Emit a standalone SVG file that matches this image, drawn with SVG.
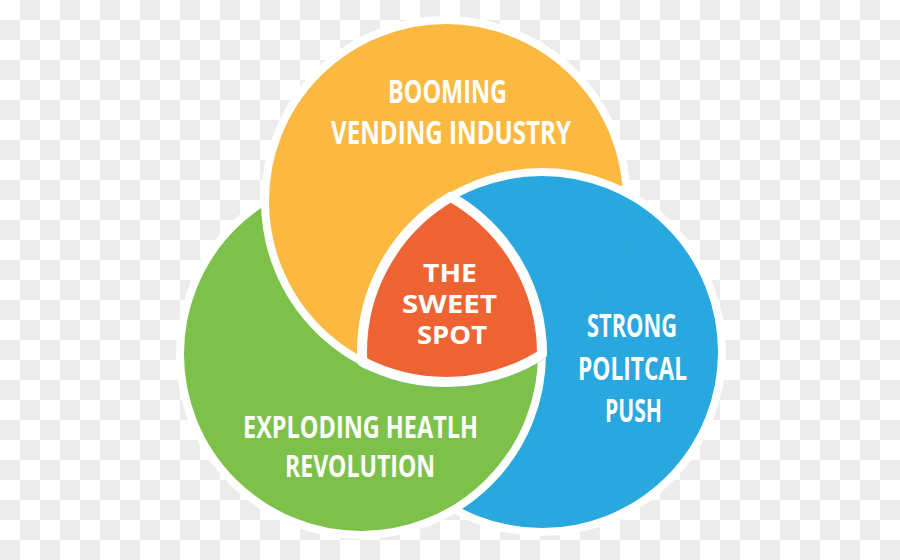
<svg xmlns="http://www.w3.org/2000/svg" width="900" height="560" viewBox="0 0 900 560">
<defs>
<pattern id="checker" width="40" height="40" patternUnits="userSpaceOnUse">
<rect width="40" height="40" fill="#ffffff"/>
<rect x="20" y="0" width="20" height="20" fill="#ececec"/>
<rect x="0" y="20" width="20" height="20" fill="#ececec"/>
</pattern>
<clipPath id="clipY"><circle cx="446" cy="201" r="186.2"/></clipPath>
<circle id="cB" cx="542" cy="352" r="180"/>
</defs>
<style>
.ring{stroke:#ffffff;stroke-width:8;stroke-linejoin:round}
.core{stroke:#ffffff;stroke-width:10;stroke-linejoin:round}
.lbl{font-family:"Liberation Sans Narrow","Open Sans","DejaVu Sans",sans-serif;font-weight:bold;fill:#ffffff;text-anchor:middle}
</style>
<rect width="900" height="560" fill="url(#checker)"/>
<g id="node-political">
<use href="#cB" class="ring" fill="#29a8df"/>
</g>
<g id="node-health">
<circle class="ring" cx="361" cy="354" r="181" fill="#7dc14b"/>
<text class="lbl" x="360.5" y="438" font-size="31" textLength="235" lengthAdjust="spacingAndGlyphs">EXPLODING HEATLH</text>
<text class="lbl" x="360" y="477" font-size="31" textLength="150" lengthAdjust="spacingAndGlyphs">REVOLUTION</text>
</g>
<g id="node-vending">
<circle class="ring" cx="446" cy="201" r="181" fill="#fbb942"/>
<text class="lbl" x="447.5" y="103" font-size="32" textLength="119" lengthAdjust="spacingAndGlyphs">BOOMING</text>
<text class="lbl" x="451" y="144" font-size="32" textLength="240" lengthAdjust="spacingAndGlyphs">VENDING INDUSTRY</text>
</g>
<g id="node-political-front">
<use href="#cB" class="ring" fill="#29a8df" clip-path="url(#clipY)"/>
<text class="lbl" x="632" y="337" font-size="33" textLength="90" lengthAdjust="spacingAndGlyphs">STRONG</text>
<text class="lbl" x="632.5" y="380" font-size="33" textLength="109" lengthAdjust="spacingAndGlyphs">POLITCAL</text>
<text class="lbl" x="633.5" y="422" font-size="33" textLength="57" lengthAdjust="spacingAndGlyphs">PUSH</text>
</g>
<g id="node-sweet-spot">
<path class="core" fill="#ee6334" d="M450.8,196.8 A180,180 0 0 0 362.3,361.5 A181,181 0 0 0 542,354.4 A181,181 0 0 0 450.8,196.8 Z"/>
<text class="lbl" x="450" y="282" font-size="25" textLength="54" lengthAdjust="spacingAndGlyphs">THE</text>
<text class="lbl" x="449.5" y="313" font-size="25" textLength="95" lengthAdjust="spacingAndGlyphs">SWEET</text>
<text class="lbl" x="452" y="344" font-size="25" textLength="70" lengthAdjust="spacingAndGlyphs">SPOT</text>
</g>
<g id="connectors"/>
</svg>
